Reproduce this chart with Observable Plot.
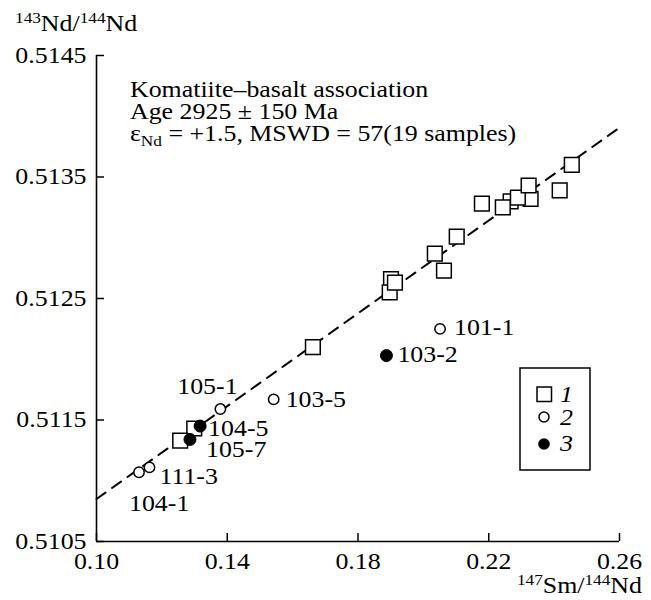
<!DOCTYPE html>
<html>
<head>
<meta charset="utf-8">
<script src="https://cdn.jsdelivr.net/npm/d3@7"></script>
<script src="https://cdn.jsdelivr.net/npm/@observablehq/plot@0.6"></script>
<style>
  html, body { margin: 0; padding: 0; background: white; }
  #chart { position: relative; width: 651px; height: 600px; }
</style>
</head>
<body>
<div id="chart"></div>
<script>
// ---- data ----
const xDomain = [0.10, 0.26];
const yDomain = [0.5105, 0.5145];
const xTicks = [0.10, 0.14, 0.18, 0.22, 0.26];
const yTicks = [0.5105, 0.5115, 0.5125, 0.5135, 0.5145];

// group 1 (squares)
const squareX = [0.2267, 0.2328, 0.2289, 0.2243, 0.2322, 0.2454, 0.2417, 0.2179, 0.2102, 0.2035, 0.2063, 0.1901, 0.1897, 0.1913, 0.1662, 0.1299, 0.1256];
const squareY = [0.51330, 0.51332, 0.51333, 0.51325, 0.51343, 0.51360, 0.51339, 0.51328, 0.51301, 0.51287, 0.51273, 0.51266, 0.51255, 0.51263, 0.51210, 0.51143, 0.51133];

// group 2 (open circles)
const openLabels = ["105-1", "103-5", "111-3", "104-1", "101-1"];
const openX = [0.1379, 0.1542, 0.1162, 0.1130, 0.2051];
const openY = [0.51159, 0.51167, 0.51111, 0.51107, 0.51225];

// group 3 (filled circles)
const filledLabels = ["104-5", "105-7", "103-2"];
const filledX = [0.1317, 0.1286, 0.1887];
const filledY = [0.51145, 0.51134, 0.51203];

// isochron
const isoX = [0.10, 0.26];
const isoY = [0.51085, 0.513906];

const legendLabels = ["1", "2", "3"];

// ---- tables ----
const squares = squareX.map((x, i) => ({x, y: squareY[i]}));
const opens = openX.map((x, i) => ({x, y: openY[i], label: openLabels[i]}));
const filleds = filledX.map((x, i) => ({x, y: filledY[i], label: filledLabels[i]}));
const iso = isoX.map((x, i) => ({x, y: isoY[i]}));
const allLabelled = opens.concat(filleds);

const FS = 22.5;
const FONT = "'Liberation Serif', 'DejaVu Serif', serif";
function lab(name, dx, dy, anchor = "start") {
  return Plot.text(allLabelled.filter(d => d.label === name), {
    x: "x", y: "y", text: "label", dx, dy, textAnchor: anchor, lineAnchor: "middle", fontSize: FS, fill: "black"
  });
}

const plot = Plot.plot({
  width: 651, height: 600,
  marginLeft: 96, marginRight: 32, marginTop: 55, marginBottom: 59,
  x: {domain: xDomain},
  y: {domain: yDomain},
  style: {fontFamily: FONT, fontSize: FS + "px", color: "black", background: "white", overflow: "visible"},
  marks: [
    Plot.axisX({ticks: xTicks, tickFormat: d3.format(".2f"), tickSize: -8, tickPadding: 20, label: null, fontSize: FS, strokeWidth: 1.5}),
    Plot.axisY({ticks: yTicks, tickFormat: d3.format(".4f"), tickSize: -8, tickPadding: 18, label: null, fontSize: FS, strokeWidth: 1.5}),
    Plot.ruleX([xDomain[0]], {stroke: "black", strokeWidth: 1.6}),
    Plot.ruleY([yDomain[0]], {stroke: "black", strokeWidth: 1.6}),
    Plot.line(iso, {x: "x", y: "y", stroke: "black", strokeWidth: 2, strokeDasharray: "11,8"}),
    Plot.dot(squares, {x: "x", y: "y", symbol: "square", r: 8.3, fill: "white", stroke: "black", strokeWidth: 1.5}),
    Plot.dot(opens, {x: "x", y: "y", r: 5.2, fill: "white", stroke: "black", strokeWidth: 1.5}),
    Plot.dot(filleds, {x: "x", y: "y", r: 6, fill: "black", stroke: "black", strokeWidth: 1}),
    lab("105-1", -13, -22, "middle"),
    lab("103-5", 12, 0),
    lab("104-5", 8, 3),
    lab("105-7", 16, 10),
    lab("111-3", 10, 9),
    lab("104-1", -10, 32),
    lab("101-1", 14, -1),
    lab("103-2", 11, -1)
  ]
});

document.getElementById("chart").appendChild(plot);
const svg = d3.select(plot);

// annotation block
const ann = svg.append("g").attr("font-family", FONT).attr("font-size", FS).attr("fill", "black").attr("text-anchor", "start");
ann.append("text").attr("x", 130).attr("y", 96.5).text("Komatiite–basalt association");
ann.append("text").attr("x", 130).attr("y", 118.5).text("Age 2925 ± 150 Ma");
const l3 = ann.append("text").attr("x", 130).attr("y", 140.5);
l3.append("tspan").text("ε");
l3.append("tspan").attr("font-size", 15).attr("dy", 5).text("Nd");
l3.append("tspan").attr("dy", -5).text(" = +1.5, MSWD = 57(19 samples)");

// axis titles
const yt = svg.append("text").attr("x", 15).attr("y", 31).attr("text-anchor", "start").attr("font-family", FONT).attr("font-size", FS).attr("fill", "black");
yt.append("tspan").attr("font-size", 15).attr("dy", -8).text("143");
yt.append("tspan").attr("dy", 8).text("Nd/");
yt.append("tspan").attr("font-size", 15).attr("dy", -8).text("144");
yt.append("tspan").attr("dy", 8).text("Nd");

const xt = svg.append("text").attr("x", 642).attr("y", 593).attr("text-anchor", "end").attr("font-family", FONT).attr("font-size", FS).attr("fill", "black");
xt.append("tspan").attr("font-size", 15).attr("dy", -8).text("147");
xt.append("tspan").attr("dy", 8).text("Sm/");
xt.append("tspan").attr("font-size", 15).attr("dy", -8).text("144");
xt.append("tspan").attr("dy", 8).text("Nd");

// legend
const lg = svg.append("g").attr("text-anchor", "start");
lg.append("rect").attr("x", 520).attr("y", 368).attr("width", 70).attr("height", 102).attr("fill", "white").attr("stroke", "black").attr("stroke-width", 1.5);
lg.append("rect").attr("x", 537).attr("y", 387).attr("width", 14.5).attr("height", 14.5).attr("fill", "white").attr("stroke", "black").attr("stroke-width", 1.5);
lg.append("circle").attr("cx", 544).attr("cy", 417).attr("r", 5).attr("fill", "white").attr("stroke", "black").attr("stroke-width", 1.5);
lg.append("circle").attr("cx", 544).attr("cy", 444).attr("r", 5.8).attr("fill", "black");
[402, 425, 451].forEach((yy, i) => {
  lg.append("text").attr("x", 560).attr("y", yy).attr("font-family", FONT).attr("font-style", "italic").attr("font-size", FS).attr("fill", "black").text(legendLabels[i]);
});

// horizontal stretch of glyphs to match the reference's wide serif face
plot.querySelectorAll("text").forEach(t => {
  const len = t.getComputedTextLength();
  if (len > 0) {
    t.setAttribute("textLength", (len * 1.15).toFixed(2));
    t.setAttribute("lengthAdjust", "spacingAndGlyphs");
  }
});
</script>
</body>
</html>
